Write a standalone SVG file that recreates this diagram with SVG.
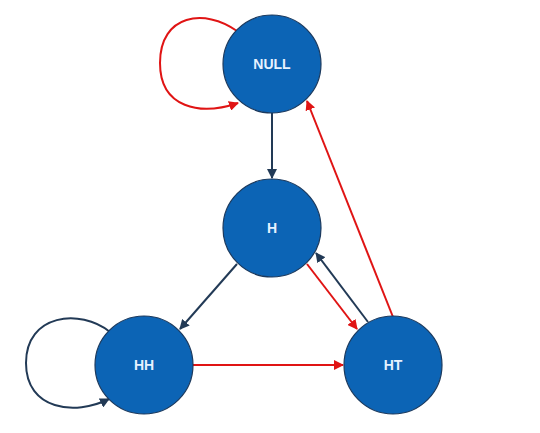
<svg xmlns="http://www.w3.org/2000/svg" width="540" height="433" viewBox="0 0 540 433">
<style>
.node circle{fill:#0c64b5;stroke:#1c3a5e;stroke-width:1.2}
.node text{fill:#e6f2ff;font-family:"Liberation Sans",Arial,sans-serif;font-weight:bold;font-size:14px;text-anchor:middle;dominant-baseline:central}
.e{fill:none;stroke-width:2}
.d{stroke:#223a56}
.r{stroke:#e01414}
</style>
<defs>
<marker id="ad" viewBox="0 0 10 10" refX="9" refY="5" markerWidth="5" markerHeight="5" orient="auto" markerUnits="strokeWidth"><path d="M0,0L10,5L0,10z" fill="#223a56"/></marker>
<marker id="ar" viewBox="0 0 10 10" refX="9" refY="5" markerWidth="5" markerHeight="5" orient="auto" markerUnits="strokeWidth"><path d="M0,0L10,5L0,10z" fill="#e01414"/></marker>
</defs>
<rect width="540" height="433" fill="#fff"/>
<g id="connectors">
<path class="e r" d="M237,31 C205,8 160,14 160,63 C160,108 200,116 238,103" marker-end="url(#ar)"/>
<path class="e d" d="M272,113 L272,178" marker-end="url(#ad)"/>
<path class="e d" d="M237,264 L180,329" marker-end="url(#ad)"/>
<path class="e r" d="M307,264 L357,329" marker-end="url(#ar)"/>
<path class="e d" d="M368,322 L316,253" marker-end="url(#ad)"/>
<path class="e r" d="M393,317 L307,101" marker-end="url(#ar)"/>
<path class="e r" d="M193,365 L343,365" marker-end="url(#ar)"/>
<path class="e d" d="M110,332 C80,308 26,314 26,363 C26,410 75,416 109,399" marker-end="url(#ad)"/>
</g>
<g id="NULL" class="node"><circle cx="272" cy="64" r="49"/><text x="272" y="64">NULL</text></g>
<g id="H" class="node"><circle cx="272" cy="228" r="49"/><text x="272" y="228">H</text></g>
<g id="HH" class="node"><circle cx="144" cy="365" r="49"/><text x="144" y="365">HH</text></g>
<g id="HT" class="node"><circle cx="393" cy="365" r="49"/><text x="393" y="365">HT</text></g>
</svg>
